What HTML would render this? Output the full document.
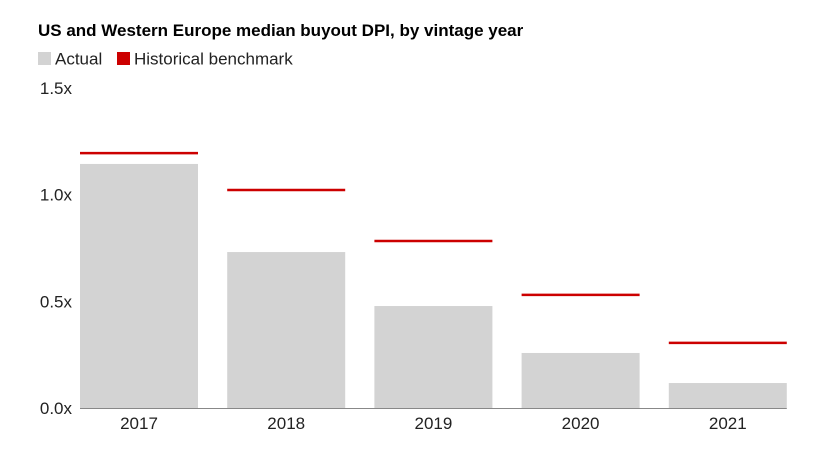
<!DOCTYPE html>
<html><head><meta charset="utf-8"><style>
html,body{margin:0;padding:0;background:#fff;width:828px;height:449px;overflow:hidden;font-family:"Liberation Sans",sans-serif;}
</style></head><body>
<svg id="chart" width="828" height="449" xmlns="http://www.w3.org/2000/svg">
<text x="38" y="36" font-size="17" font-weight="bold" fill="#000" font-family="Liberation Sans, sans-serif">US and Western Europe median buyout DPI, by vintage year</text>
<g>
<rect x="38" y="52" width="13" height="13" fill="#d3d3d3"/>
<text x="55" y="64.5" font-size="17" fill="#222">Actual</text>
<rect x="117" y="52" width="13" height="13" fill="#cc0000"/>
<text x="134" y="64.5" font-size="17" fill="#222">Historical benchmark</text>
</g>
<g id="yaxis"></g>
<g id="bars"></g>
<g id="bench"></g>
<g id="xaxis"></g>
</svg>
<script>
const categories = ["2017","2018","2019","2020","2021"];
const actualValues = [1.144, 0.731, 0.478, 0.258, 0.117];
const benchmarkValues = [1.195, 1.022, 0.783, 0.530, 0.305];
const yTicks = [0, 0.5, 1.0, 1.5];
const yTickLabels = ["0.0x","0.5x","1.0x","1.5x"];

const NS = "http://www.w3.org/2000/svg";
const y0 = 408, yMaxPx = 88, yMax = 1.5;
const y = v => y0 - (v / yMax) * (y0 - yMaxPx);
const plotL = 80, step = 147.2, barW = 118;
const xBand = i => plotL + i * step;

function mk(tag, attrs, parent) {
  const e = document.createElementNS(NS, tag);
  for (const k in attrs) e.setAttribute(k, attrs[k]);
  parent.appendChild(e);
  return e;
}
const yaxis = document.getElementById('yaxis');
yTicks.forEach((t, i) => {
  const tx = mk('text', {x: 72, y: y(t) + 6, 'text-anchor': 'end', 'font-size': 17, fill: '#222'}, yaxis);
  
  
  tx.textContent = yTickLabels[i];
});
const bars = document.getElementById('bars');
const bench = document.getElementById('bench');
const xaxis = document.getElementById('xaxis');
categories.forEach((c, i) => {
  const x = xBand(i);
  const r = mk('rect', {x: x, y: y(actualValues[i]), width: barW, height: y0 - y(actualValues[i]), fill: '#d3d3d3'}, bars);
  
  
  const l = mk('line', {x1: x, x2: x + barW, y1: y(benchmarkValues[i]), y2: y(benchmarkValues[i]), stroke: '#cc0000', 'stroke-width': 2.5}, bench);
  
  
  const t = mk('text', {x: x + barW / 2, y: 429, 'text-anchor': 'middle', 'font-size': 17, fill: '#222'}, xaxis);
  
  
  t.textContent = c;
});
const ax = mk('line', {x1: plotL, x2: xBand(categories.length - 1) + barW, y1: y0 + 0.5, y2: y0 + 0.5, stroke: '#888', 'stroke-width': 1}, xaxis);


</script>
</body></html>
